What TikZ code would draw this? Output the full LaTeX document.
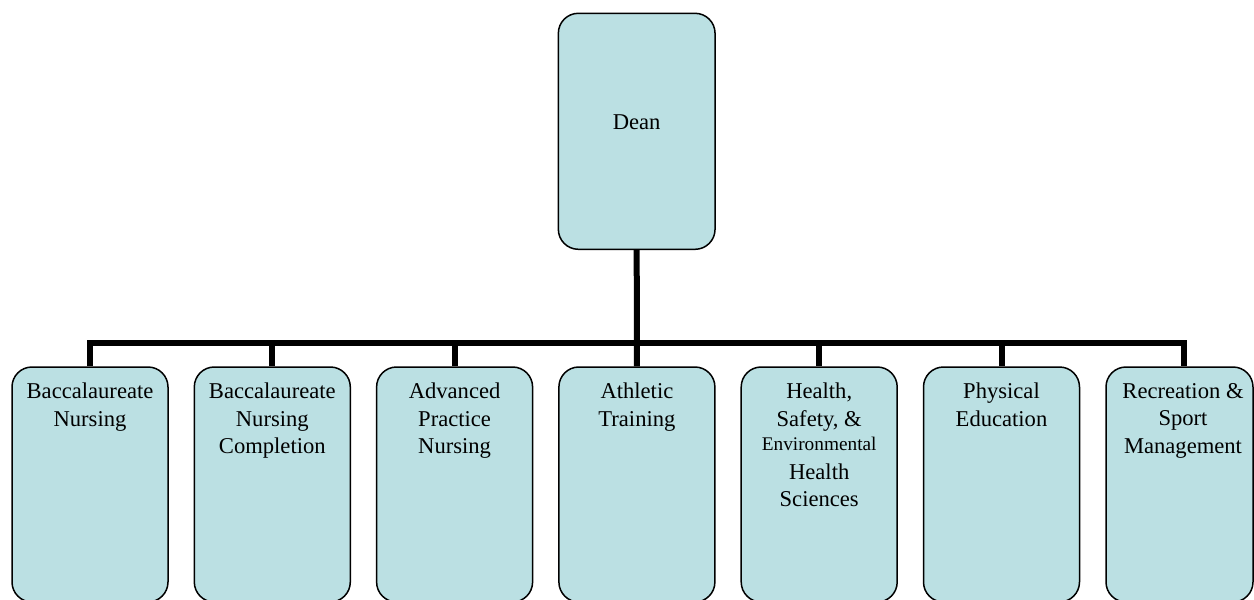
\documentclass[tikz,border=0pt]{standalone}
\usepackage{fontspec}
\setmainfont{Liberation Serif}
\definecolor{boxfill}{HTML}{BBE0E3}
\begin{document}
\begin{tikzpicture}[x=0.5pt,y=-0.5pt,
  orgbox/.style={draw=black, line width=0.75pt, fill=boxfill, rounded corners=10pt, inner sep=0pt},
  childbox/.style={orgbox, minimum width=78pt, minimum height=117.5pt},
  lbl/.style={font=\fontsize{11.3}{13.75}\selectfont, align=center, inner sep=0pt, anchor=base},
  toplbl/.style={lbl, anchor=north},
  conn/.style={line width=3pt, line join=miter}]
\useasboundingbox (0,0) rectangle (1254,600);
\clip (0,0) rectangle (1254,600);

\node[orgbox, minimum width=78.35pt, minimum height=118pt] (dean) at (636.7,131.3) {};
\node[lbl] (tdean) at (636.7,129.3) {Dean};

\node[childbox] (c1) at (90,484.5) {};
\node[childbox] (c2) at (272.3,484.5) {};
\node[childbox] (c3) at (454.6,484.5) {};
\node[childbox] (c4) at (636.9,484.5) {};
\node[childbox] (c5) at (819.2,484.5) {};
\node[childbox] (c6) at (1001.5,484.5) {};
\node[orgbox, minimum width=73.5pt, minimum height=117.5pt] (c7) at (1179.5,484.5) {};

\coordinate (b1) at (90,342.5);
\coordinate (b2) at (272.3,342.5);
\coordinate (b3) at (454.6,342.5);
\coordinate (b4) at (636.9,342.5);
\coordinate (b5) at (819.2,342.5);
\coordinate (b6) at (1001.5,342.5);
\coordinate (b7) at (1183.8,342.5);

\draw[conn] (c1.north) -- (b1) -- (b7) -- (b7 |- c7.north);
\draw[conn] (b2) -- (c2.north);
\draw[conn] (b3) -- (c3.north);
\draw[conn] (dean.south) -- (c4.north);
\draw[conn] (b5) -- (c5.north);
\draw[conn] (b6) -- (c6.north);

\node[toplbl] (t1) at (90,382.6) {Baccalaureate\\Nursing};
\node[toplbl] (t2) at (272.3,382.6) {Baccalaureate\\Nursing\\Completion};
\node[toplbl] (t3) at (454.6,382.6) {Advanced\\Practice\\Nursing};
\node[toplbl] (t4) at (636.9,382.6) {Athletic\\Training};
\node[toplbl] (t5) at (819.2,382.6) {Health,\\Safety, \&\\[-1.75pt]{\fontsize{9.65}{11}\selectfont Environmental}\\[0.75pt]Health\\Sciences};
\node[toplbl] (t6) at (1001.5,382.6) {Physical\\Education};
\node[toplbl] (t7) at (1183,382.6) {Recreation \&\\Sport\\Management};
\end{tikzpicture}
\end{document}
